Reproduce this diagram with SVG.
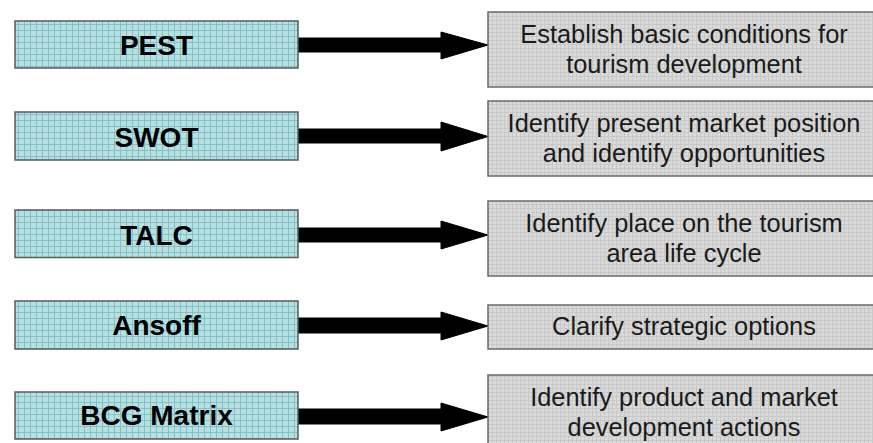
<svg xmlns="http://www.w3.org/2000/svg" width="873" height="443" viewBox="0 0 873 443">
<style>
.lbox{fill:url(#gridL);stroke:#5a5a5a;stroke-width:1.5}
.rbox{fill:url(#gridR);stroke:#6a6a6a;stroke-width:1.5}
.lt{font-family:"Liberation Sans",Arial,sans-serif;font-weight:bold;font-size:28px;fill:#000;text-anchor:middle}
.rt{font-family:"Liberation Sans",Arial,sans-serif;font-size:25.4px;fill:#1a1a1a;text-anchor:middle}
.arr{fill:#000;stroke:#000;stroke-width:1}
</style>
<defs>
<pattern id="gridL" width="6" height="6" patternUnits="userSpaceOnUse">
<rect width="6" height="6" fill="#b8dfe2"/>
<path d="M0 0.5H6M0.5 0V6" stroke="#80c2c6" stroke-width="1"/>
</pattern>
<pattern id="gridR" width="4" height="4" patternUnits="userSpaceOnUse">
<rect width="4" height="4" fill="#dadada"/>
<path d="M0 0.5H4M0.5 0V4" stroke="#c9c9c9" stroke-width="1"/>
</pattern>
</defs>
<g id="connectors">
<polygon class="arr" points="298,38 441,38 441,32 488,45 441,59 441,52 298,52"/>
<polygon class="arr" points="298,129 441,129 441,122 488,136.5 441,151 441,143 298,143"/>
<polygon class="arr" points="298,228 441,228 441,221 488,235 441,249 441,242 298,242"/>
<polygon class="arr" points="298,318 441,318 441,312 488,326 441,340 441,333 298,333"/>
<polygon class="arr" points="298,409 441,409 441,403 488,417 441,431 441,424 298,424"/>
</g>
<g id="pest">
<rect class="lbox" x="15" y="21" width="283" height="47"/>
<text class="lt" x="156.5" y="55">PEST</text>
</g>
<g id="swot">
<rect class="lbox" x="15" y="112" width="283" height="48"/>
<text class="lt" x="156.5" y="146.5">SWOT</text>
</g>
<g id="talc">
<rect class="lbox" x="15" y="210" width="283" height="47.5"/>
<text class="lt" x="156.5" y="245">TALC</text>
</g>
<g id="ansoff">
<rect class="lbox" x="15" y="301" width="283" height="48"/>
<text class="lt" x="156.5" y="335">Ansoff</text>
</g>
<g id="bcg">
<rect class="lbox" x="15" y="392" width="283" height="47"/>
<text class="lt" x="156.5" y="425">BCG Matrix</text>
</g>
<g id="pest-out">
<rect class="rbox" x="488" y="12" width="390" height="75"/>
<text class="rt" x="684" y="43">Establish basic conditions for</text>
<text class="rt" x="684" y="73">tourism development</text>
</g>
<g id="swot-out">
<rect class="rbox" x="488" y="101" width="390" height="75"/>
<text class="rt" x="684" y="132">Identify present market position</text>
<text class="rt" x="684" y="162">and identify opportunities</text>
</g>
<g id="talc-out">
<rect class="rbox" x="488" y="201" width="390" height="75"/>
<text class="rt" x="684" y="232">Identify place on the tourism</text>
<text class="rt" x="684" y="262">area life cycle</text>
</g>
<g id="ansoff-out">
<rect class="rbox" x="488" y="305" width="390" height="44"/>
<text class="rt" x="684" y="335">Clarify strategic options</text>
</g>
<g id="bcg-out">
<rect class="rbox" x="488" y="375" width="390" height="75"/>
<text class="rt" x="684" y="406">Identify product and market</text>
<text class="rt" x="684" y="436">development actions</text>
</g>
</svg>
